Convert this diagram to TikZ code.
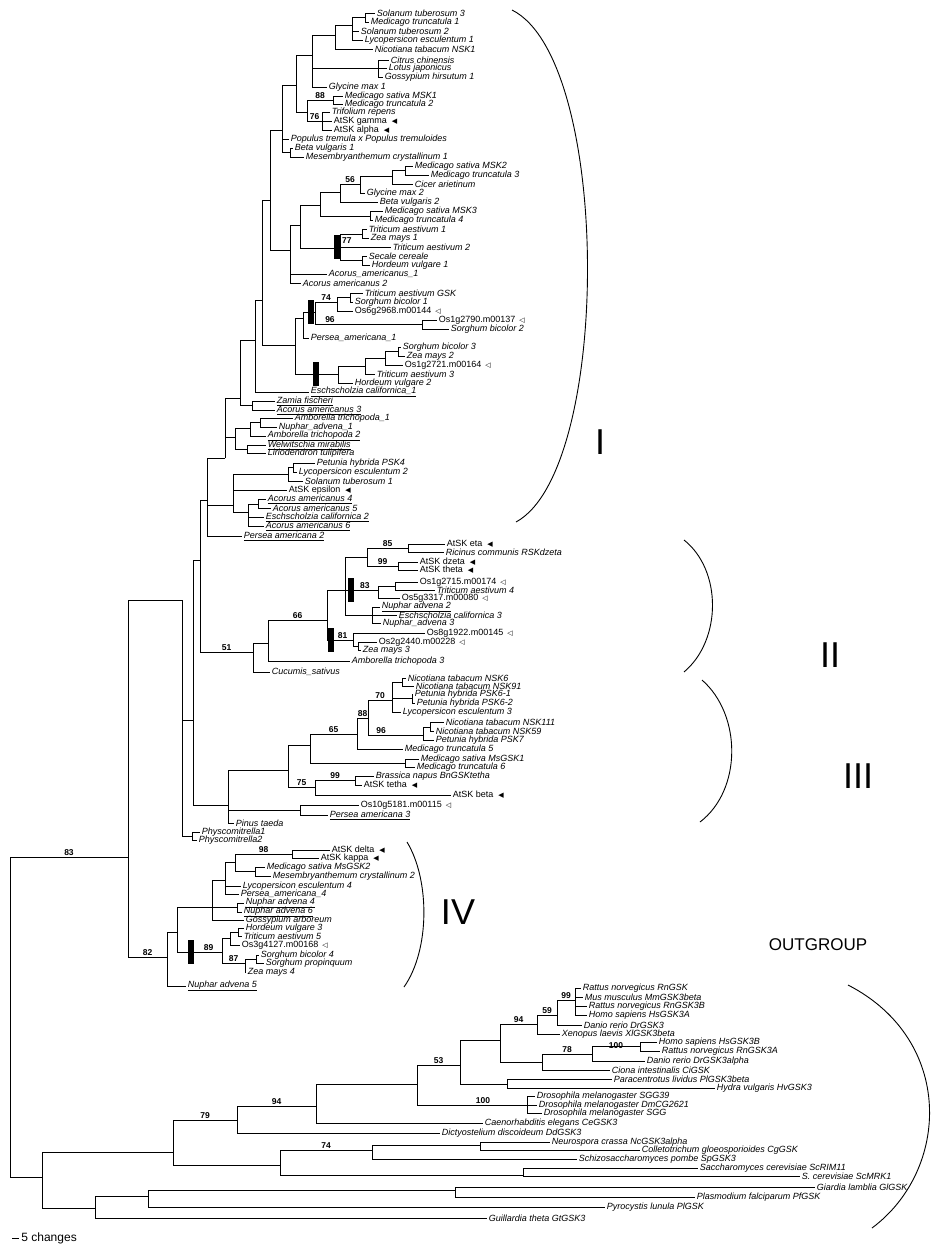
\documentclass[tikz,border=0pt]{standalone}
\usepackage{fontspec}
\setmainfont{Liberation Sans}
\newfontfamily\symfont{DejaVu Sans}
\usetikzlibrary{positioning}
\newcommand{\atri}{\hspace{5pt}{\symfont\fontsize{7}{7}\selectfont ◀}}
\newcommand{\otri}{\hspace{4pt}{\symfont\fontsize{7}{7}\selectfont ◁}}
\newcommand{\uln}[1]{\underline{#1}}

\begin{document}
\begin{tikzpicture}[x=1pt, y=-1pt, line width=0.8pt,
  leaf/.style={anchor=west, inner sep=1.5pt, font=\fontsize{9}{9}\selectfont\itshape},
  boot/.style={above, inner sep=0.8pt, font=\fontsize{8.5}{8.5}\selectfont\bfseries},
  bar/.style={fill=black, minimum width=6pt, minimum height=24pt, inner sep=0pt},
  clade/.style={font=\fontsize{36}{36}\selectfont, inner sep=0pt}
]
  \fill[white] (0,0) rectangle (945,1253);
  \useasboundingbox (0,0) rectangle (945,1253);

  \foreach \nm/\px/\py/\txt in {
    st3/375/13/Solanum tuberosum 3, mt1/369/22/Medicago truncatula 1,
    st2/359/31/Solanum tuberosum 2, le1/363/40/Lycopersicon esculentum 1,
    nt1/373/49/Nicotiana tabacum NSK1, cc/389/60/Citrus chinensis,
    lj/387/68/Lotus japonicus, gh1/383/77/Gossypium hirsutum 1,
    gm1/327/87/Glycine max 1, ms1/343/96/Medicago sativa MSK1,
    mt2/343/104/Medicago truncatula 2, tr/330/112/Trifolium repens,
    atg/332/121/{\upshape AtSK gamma\atri}, ata/332/130/{\upshape AtSK alpha\atri},
    pop/289/139/Populus tremula x Populus tremuloides, bv1/293/148/Beta vulgaris 1,
    mc1/304/157/Mesembryanthemum crystallinum 1, ms2/413/166/Medicago sativa MSK2,
    mt3/429/175/Medicago truncatula 3, ca/413/184/Cicer arietinum,
    gm2/365/193/Glycine max 2, bv2/378/202/Beta vulgaris 2,
    ms3/383/211/Medicago sativa MSK3, mt4/373/220/Medicago truncatula 4,
    ta1/367/229/Triticum aestivum 1, zm1/369/238/Zea mays 1,
    ta2/391/247/Triticum aestivum 2, sc/367/256/Secale cereale,
    hv1/370/265/Hordeum vulgare 1, ac1/327/274/Acorus\_americanus\_1,
    ac2/301/283/Acorus americanus 2, tagsk/363/293/Triticum aestivum GSK,
    sb1/353/302/Sorghum bicolor 1, os6/353/311/{\upshape Os6g2968.m00144\otri},
    os1a/437/320/{\upshape Os1g2790.m00137\otri}, sb2/449/329/Sorghum bicolor 2,
    pa1/309/338/Persea\_americana\_1, sb3/401/347/Sorghum bicolor 3,
    zm2/405/356/Zea mays 2, os1b/403/365/{\upshape Os1g2721.m00164\otri},
    ta3/375/374/Triticum aestivum 3, hv2/353/383/Hordeum vulgare 2,
    ec1/309/392/{\uln{Eschscholzia californica\_1}}, zf/275/401/{\uln{Zamia fischeri}},
    ac3/275/410/{\uln{Acorus americanus 3}}, at1/293/418/Amborella trichopoda\_1,
    na1/277/427/Nuphar\_advena\_1, at2/266/436/{\uln{Amborella trichopoda 2}},
    wm/266/445/{\uln{Welwitschia mirabilis}}, lt/266/453/Liriodendron tulipifera,
    ph4/315/463/Petunia hybrida PSK4, le2/297/472/Lycopersicon esculentum 2,
    st1/303/481/Solanum tuberosum 1, ate/287/490/{\upshape AtSK epsilon\atri},
    ac4/266/499/{\uln{Acorus americanus 4}}, ac5/271/508/Acorus americanus 5,
    ec2/264/517/{\uln{Eschscholzia californica 2}}, ac6/264/526/{\uln{Acorus americanus 6}},
    pa2/242/536/{\uln{Persea americana 2}}}
    \node[leaf] (\nm) at (\px,\py) {\txt};

  \foreach \nm/\px/\py/\txt in {
    ateta/445/544/{\upshape AtSK eta\atri}, rc/444/552/Ricinus communis RSKdzeta,
    atdz/418/562/{\upshape AtSK dzeta\atri}, atth/418/570/{\upshape AtSK theta\atri},
    os1c/418/582/{\upshape Os1g2715.m00174\otri}, ta4/435/590/Triticum aestivum 4,
    os5/400/598/{\upshape Os5g3317.m00080\otri}, na2/380/607/{\uln{Nuphar advena 2}},
    ec3/397/615/Eschscholzia californica 3, na3/381/623/Nuphar\_advena 3,
    os8/425/633/{\upshape Os8g1922.m00145\otri}, os2/377/642/{\upshape Os2g2440.m00228\otri},
    zm3/361/650/Zea mays 3, at3/350/661/Amborella trichopoda 3,
    cs/270/672/Cucumis\_sativus,
    nt6/406/678/Nicotiana tabacum NSK6, nt91/414/686/Nicotiana tabacum NSK91,
    ph61/413/694/Petunia hybrida PSK6-1, ph62/415/703/Petunia hybrida PSK6-2,
    le3/401/712/Lycopersicon esculentum 3, nt111/444/722/Nicotiana tabacum NSK111,
    nt59/434/731/Nicotiana tabacum NSK59, ph7/434/740/Petunia hybrida PSK7,
    mt5/403/749/Medicago truncatula 5, msg1/419/759/Medicago sativa MsGSK1,
    mt6/415/767/Medicago truncatula 6, bn/374/776/Brassica napus BnGSKtetha,
    att/362/785/{\upshape AtSK tetha\atri}, atb/451/795/{\upshape AtSK beta\atri},
    os10/359/805/{\upshape Os10g5181.m00115\otri}, pa3/328/815/{\uln{Persea americana 3}},
    pt/234/823/Pinus taeda, phy1/200/832/Physcomitrella1, phy2/197/840/Physcomitrella2,
    atd/330/850/{\upshape AtSK delta\atri}, atk/319/858/{\upshape AtSK kappa\atri},
    msg2/265/867/Medicago sativa MsGSK2, mc2/271/876/Mesembryanthemum crystallinum 2,
    le4/241/886/Lycopersicon esculentum 4, pa4/239/894/Persea\_americana\_4,
    na4/244/903/{\uln{Nuphar advena 4}}, na6/242/912/{\uln{Nuphar advena 6}},
    ga/244/920/Gossypium arboreum, hv3/244/928/Hordeum vulgare 3,
    ta5/242/936/Triticum aestivum 5, os3/240/945/{\upshape Os3g4127.m00168\otri},
    sb4/259/955/Sorghum bicolor 4, sp/264/963/Sorghum propinquum,
    zm4/246/972/Zea mays 4, na5/186/986/{\uln{Nuphar advena 5}}}
    \node[leaf] (\nm) at (\px,\py) {\txt};

  \foreach \nm/\px/\py/\txt in {
    rn/581/988/Rattus norvegicus RnGSK, mm/583/997/Mus musculus MmGSK3beta,
    rn3b/587/1006/Rattus norvegicus RnGSK3B, hs3a/587/1015/Homo sapiens HsGSK3A,
    dr3/582/1025/Danio rerio DrGSK3, xl/560/1034/Xenopus laevis XlGSK3beta,
    hs3b/657/1042/Homo sapiens HsGSK3B, rn3a/660/1051/Rattus norvegicus RnGSK3A,
    dra/645/1061/Danio rerio DrGSK3alpha, ci/610/1070/Ciona intestinalis CiGSK,
    pli/612/1079/Paracentrotus lividus PlGSK3beta, hv/715/1088/Hydra vulgaris HvGSK3,
    sgg39/535/1096/Drosophila melanogaster SGG39, dm/537/1105/Drosophila melanogaster DmCG2621,
    sgg/542/1113/Drosophila melanogaster SGG, ce/483/1123/Caenorhabditis elegans CeGSK3,
    dd/440/1133/Dictyostelium discoideum DdGSK3, nc/550/1142/Neurospora crassa NcGSK3alpha,
    cg/640/1150/Colletotrichum gloeosporioides CgGSK, spo/577/1159/Schizosaccharomyces pombe SpGSK3,
    scr/698/1168/Saccharomyces cerevisiae ScRIM11, scm/800/1176/S. cerevisiae ScMRK1,
    gl/815/1187/Giardia lamblia GlGSK, pf/695/1197/Plasmodium falciparum PfGSK,
    pl/605/1207/Pyrocystis lunula PlGSK, gt/487/1218/Guillardia theta GtGSK3}
    \node[leaf] (\nm) at (\px,\py) {\txt};

  \foreach \nm/\px/\py in {
    a1/365/17, a2/352/25, a3/335/35, a5/378/68, a4/312/55, b1/333/100, b2/322/121,
    b0/307/112, a6/296/85, c1/290/152, a7/282/130, d1/405/170, d2/392/176, d3/360/184,
    d4/340/192, d5/370/216, d6/320/205, e1/362/234, e3/362/260, e2/340/248, d7/300/225,
    d8/290/250, f1/350/297, f2/337/302, f3/422/324, f4/315/312, f5/303/318, g1/398/351,
    g2/385/358, g3/365/366, g4/338/374, h1/295/345, T1/270/200, T2/262/300, T3/255/340,
    Iza/252/405, I2/240/398, Iam3/260/422, Iam2/250/428, Iwl/247/449, Iam/235/437,
    I1/225/458, Iso2/293/467, Iso/288/474, Iac45/258/504, Iac/248/512, Ilo/233/505,
    I0/207/500,
    J5a/408/548, J5b/398/566, J5/367/557, J6a/395/586, J6/378/590, J7/372/615,
    J4/345/590, J8a/358/646, J8/353/640, J3/327/620, J2/268/643, J1/253/652,
    K5a/402/682, K5b/412/698, K5/392/700, K4ba/430/727, K4b/423/735, K4/368/718,
    K3/357/734, K6/405/763, K2/310/745, K8/355/780, K7/315/787, K1/288/770,
    K9/300/810, K0/228/805,
    Phys/192/836, A2/200/560, A3/193/720, A1/182/600, P/128/857, R/10/857,
    IV5/292/854, IV7/255/871, IV4/235/862, IV3/225/880, IV6/237/907, IV2/212/907,
    IV10a/238/932, IV10/230/938, IV12/256/959, IV11/245/963, IV9/222/952,
    IV1/177/932, IVr/167/957,
    O1/42/1177, O3/95/1208, O4/148/1196, O5/455/1190, O2/173/1152, O7/280/1165,
    O9/523/1175, O8/372/1150, O10/480/1145, O6/237/1120, o316/316/1106,
    oa/417/1084, odr/527/1105, ob/460/1065, oc/500/1040, od/537/1024, oh/557/1015,
    oi/575/1000, oe/542/1062, of/592/1054, og/640/1046, oph/507/1084}
    \coordinate (\nm) at (\px,\py);

  \foreach \p/\c in {
    a1/st3, a1/mt1, a2/a1, a2/st2, a2/le1, a3/a2, a3/nt1, a5/cc, a5/lj, a5/gh1,
    a4/a3, a4/a5, a4/gm1, b1/ms1, b1/mt2, b2/tr, b2/atg, b2/ata, a6/a4, a6/b0,
    c1/bv1, c1/mc1, a7/a6, a7/pop, a7/c1, d1/ms2, d1/mt3, d2/d1, d2/ca, d3/d2,
    d3/gm2, d4/bv2, d5/ms3, d5/mt4, d6/d4, d6/d5, e1/ta1, e1/zm1, e3/sc, e3/hv1,
    e2/e1, e2/ta2, e2/e3, d7/d6, d7/e2, d8/d7, d8/ac1, d8/ac2, T1/a7, T1/d8,
    f1/tagsk, f1/sb1, f2/f1, f2/os6, f3/os1a, f3/sb2, f5/f4, f5/pa1, g1/sb3,
    g1/zm2, g2/g1, g2/os1b, g3/g2, g3/ta3, g4/g3, g4/hv2, h1/f5, h1/g4, T2/T1,
    T2/h1, T3/T2, T3/ec1, Iza/zf, Iza/ac3, I2/T3, I2/Iza, Iam3/at1, Iam3/na1,
    Iam2/Iam3, Iam2/at2, Iwl/wm, Iwl/lt, Iam/Iam2, Iam/Iwl, I1/I2, I1/Iam,
    Iso2/ph4, Iso2/le2, Iso/Iso2, Iso/st1, Iac45/ac4, Iac45/ac5, Iac/Iac45,
    Iac/ec2, Iac/ac6, Ilo/Iso, Ilo/ate, Ilo/Iac, I0/I1, I0/Ilo, I0/pa2,
    J5a/ateta, J5a/rc, J5b/atdz, J5b/atth, J6a/os1c, J6a/ta4, J6/J6a, J6/os5,
    J7/na2, J7/ec3, J7/na3, J4/J5, J4/J7, J8a/os2, J8a/zm3, J8/os8, J8/J8a,
    J3/J4, J2/at3, J1/J2, J1/cs,
    K5a/nt6, K5a/nt91, K5b/ph61, K5b/ph62, K5/K5a, K5/K5b, K5/le3, K4ba/nt111,
    K4ba/nt59, K4b/K4ba, K4b/ph7, K3/mt5, K6/msg1, K6/mt6, K2/K6, K8/bn, K8/att,
    K7/atb, K1/K2, K9/os10, K9/pa3, K0/K1, K0/K9, K0/pt,
    Phys/phy1, Phys/phy2, A1/A3, A1/Phys, A3/A2, A3/K0, A2/I0, P/A1,
    IV5/atd, IV5/atk, IV7/msg2, IV7/mc2, IV4/IV7, IV3/IV4, IV3/le4, IV3/pa4,
    IV6/na4, IV6/na6, IV2/IV3, IV2/IV6, IV2/ga, IV10a/hv3, IV10a/ta5, IV10/IV10a,
    IV10/os3, IV12/sb4, IV12/sp, IV11/IV12, IV11/zm4, IV9/IV10, IV1/IV2,
    IVr/IV1, IVr/na5,
    R/O1, O1/O2, O1/O3, O3/O4, O3/gt, O4/O5, O4/pl, O5/gl, O5/pf, O2/O7, O7/O9,
    O9/scr, O9/scm, O8/O10, O8/spo, O10/nc, O10/cg, O6/dd, o316/oa, o316/ce,
    odr/sgg39, odr/dm, odr/sgg, ob/oc, ob/oph, oc/oe, od/xl, oh/dr3, oi/rn,
    oi/mm, oi/rn3b, oi/hs3a, oe/ci, of/dra, og/hs3b, og/rn3a, oph/pli, oph/hv}
    \draw (\p) |- (\c);

  \draw (b0) |- (b1) node[boot, pos=.75] {88};
  \draw (b0) |- (b2) node[boot, pos=.75] {76};
  \draw (d4) |- (d3) node[boot, pos=.75] {56};
  \draw (f4) |- (f2) node[boot, pos=.75] {74};
  \draw (f4) |- (f3) node[boot, pos=.57] {96};
  \draw (A2) |- (J1) node[boot, pos=.75] {51};
  \draw (J2) |- (J3) node[boot, pos=.75] {66};
  \draw (J5) |- (J5a) node[boot, pos=.75] {85};
  \draw (J5) |- (J5b) node[boot, pos=.75] {99};
  \draw (J4) |- (J6) node[boot, pos=.8] {83};
  \draw (J3) |- (J8) node[boot, pos=.8] {81};
  \draw (K4) |- (K5) node[boot, pos=.75] {70};
  \draw (K4) |- (K4b) node[boot, pos=.62] {96};
  \draw (K3) |- (K4) node[boot, pos=.75] {88};
  \draw (K2) |- (K3) node[boot, pos=.75] {65};
  \draw (K7) |- (K8) node[boot, pos=.75] {99};
  \draw (K1) |- (K7) node[boot, pos=.75] {75};
  \draw (IV4) |- (IV5) node[boot, pos=.75] {98};
  \draw (IV9) |- (IV11) node[boot, pos=.75] {87};
  \draw (IV1) |- (IV9) node[boot, pos=.85] {89};
  \draw (P) |- (IVr) node[boot, pos=.75] {82};
  \draw (R) |- (P) node[boot, pos=.75] {83};
  \draw (O2) |- (O6) node[boot, pos=.75] {79};
  \draw (O6) |- (o316) node[boot, pos=.75] {94};
  \draw (O7) |- (O8) node[boot, pos=.75] {74};
  \draw (oa) |- (ob) node[boot, pos=.75] {53};
  \draw (oa) |- (odr) node[boot, pos=.8] {100};
  \draw (oc) |- (od) node[boot, pos=.75] {94};
  \draw (od) |- (oh) node[boot, pos=.75] {59};
  \draw (oh) |- (oi) node[boot, pos=.75] {99};
  \draw (oe) |- (of) node[boot, pos=.75] {78};
  \draw (of) |- (og) node[boot, pos=.75, yshift=-4pt] {100};

  \node[bar] (bar77) at (337,247) {};
  \node[boot, anchor=west] (lab77) at (341,241) {77};
  \node[bar] (bar74) at (311,312) {};
  \node[bar] (barhv) at (316,374) {};
  \node[bar] (bar83) at (351,590) {};
  \node[bar] (bar81) at (331,640) {};
  \node[bar] (bar89) at (191,952) {};

  \draw[line width=0.9pt] (512,10) .. controls (612,60) and (612,470) .. (516,522);
  \draw[line width=0.9pt] (684,540) .. controls (722,570) and (722,640) .. (684,672);
  \draw[line width=0.9pt] (702,680) .. controls (742,715) and (742,790) .. (700,822);
  \draw[line width=0.9pt] (407,842) .. controls (430,880) and (430,950) .. (404,987);
  \draw[line width=0.9pt] (848,985) .. controls (955,1040) and (950,1170) .. (872,1228);

  \node[clade] (labI) at (600,442) {I};
  \node[clade] (labII) at (830,655) {II};
  \node[clade] (labIII) at (858,776) {III};
  \node[clade] (labIV) at (458,912) {IV};
  \node[font=\fontsize{17}{17}\selectfont] (labout) at (818,945) {OUTGROUP};

  \coordinate (sc0) at (12,1238);
  \coordinate (sc1) at (19,1238);
  \draw (sc0) -- (sc1);
  \node[anchor=west, font=\fontsize{12}{12}\selectfont, inner sep=2pt] (scl) at (sc1) {5 changes};
\end{tikzpicture}
\end{document}
